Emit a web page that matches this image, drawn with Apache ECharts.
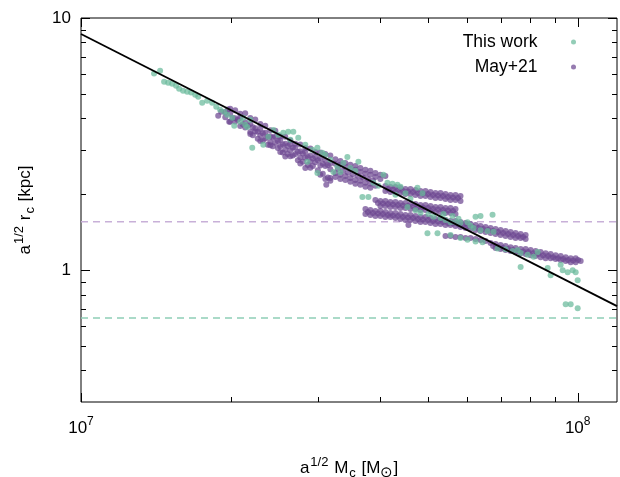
<!DOCTYPE html>
<html><head><meta charset="utf-8">
<script src="https://cdn.jsdelivr.net/npm/echarts@6/dist/echarts.min.js"></script>
<style>html,body{margin:0;padding:0;background:#fff}#c{width:620px;height:477px}</style>
</head><body><div id="c"></div>
<script>
// ---- data (a^1/2 Mc [Msun], a^1/2 rc [kpc]) ----
const thisWork = [
[1.403e7,6.02],[1.443e7,6.18],[1.470e7,5.59],[1.498e7,5.54],[1.526e7,5.49],[1.554e7,5.39],[1.576e7,5.24],[1.605e7,5.15],[1.636e7,5.10],[1.666e7,5.06],
[1.698e7,4.96],[1.722e7,4.87],[1.754e7,4.61],[1.795e7,4.70],[1.837e7,4.61],[1.872e7,4.45],[1.906e7,4.33],[1.943e7,4.25],[1.970e7,4.13],[2.016e7,4.02],
[2.035e7,3.74],[2.092e7,3.88],[2.161e7,3.70],[2.212e7,3.06],[2.328e7,3.14],[2.383e7,3.38],[2.121e7,4.02],[2.141e7,3.77],[2.192e7,3.95],[2.439e7,3.60],
[2.496e7,3.44],[2.554e7,3.51],[2.614e7,3.54],[2.676e7,3.54],[2.639e7,3.29],[2.738e7,3.35],[2.829e7,3.14],[2.855e7,2.69],[2.923e7,3.00],[2.992e7,3.06],
[2.992e7,2.43],[3.222e7,2.45],[3.282e7,2.57],[3.328e7,2.45],[3.438e7,2.81],[3.618e7,2.69],[3.104e7,2.87],[3.177e7,2.74],[3.374e7,2.66],[3.486e7,2.54],
[3.568e7,2.48],[3.686e7,1.95],[3.790e7,1.95],[4.063e7,2.39],[3.879e7,2.22],[3.970e7,2.16],[4.139e7,2.22],[4.236e7,2.20],[4.336e7,2.18],[4.397e7,2.14],
[4.500e7,2.02],[4.296e7,1.99],[4.606e7,1.92],[4.758e7,2.12],[4.870e7,2.02],[4.542e7,1.78],[4.714e7,1.73],[4.825e7,1.69],[5.007e7,1.67],[5.125e7,1.63],
[5.294e7,1.61],[4.984e7,1.40],[5.221e7,1.40],[5.546e7,1.38],[5.418e7,1.58],[5.546e7,1.55],[5.676e7,1.55],[5.809e7,1.54],[6.000e7,1.55],[6.085e7,1.50],
[6.228e7,1.63],[6.374e7,1.64],[6.739e7,1.66],[6.171e7,1.47],[6.374e7,1.44],[6.585e7,1.43],[6.771e7,1.42],[5.809e7,1.34],[6.000e7,1.32],[6.228e7,1.30],
[6.433e7,1.29],[6.898e7,1.22],[7.159e7,1.21],[7.395e7,1.19],[7.569e7,1.20],[7.676e7,1.17],[7.929e7,1.15],[8.153e7,1.13],[8.306e7,1.18],[7.676e7,1.03],
[8.701e7,1.02],[8.822e7,0.955],[9.242e7,1.05],[9.328e7,1.00],[9.547e7,0.982],[9.771e7,1.00],[9.908e7,0.982],[1.0e8,0.912],[9.459e7,0.733],[9.681e7,0.733],
[1.0e8,0.706],[5.368e7,1.67],[5.598e7,1.64],[5.755e7,1.60],[3.061e7,2.92]
];
const mayBand = [
[1.889e7,4.10],[1.915e7,4.25],[1.988e7,3.88],[3.118e7,2.18],[3.177e7,2.32],[4.563e7,1.51],
[1.997e7,4.37],[2.044e7,4.31],[2.092e7,4.17],[2.141e7,4.19],[2.192e7,4.01],[2.243e7,3.96],[2.296e7,3.80],[2.350e7,3.74],[2.405e7,3.59],[2.462e7,3.57],[2.519e7,3.40],[2.578e7,3.38],[2.639e7,3.27],[2.701e7,3.17],[2.764e7,3.15],[2.829e7,3.05],[2.896e7,3.04],[2.964e7,2.94],[3.033e7,2.93],[3.104e7,2.89],[3.177e7,2.85],
[1.952e7,4.23],[1.997e7,4.17],[2.044e7,4.00],[2.092e7,4.02],[2.141e7,3.86],[2.192e7,3.80],[2.243e7,3.65],[2.296e7,3.63],[2.350e7,3.51],[2.405e7,3.40],[2.462e7,3.38],[2.519e7,3.28],[2.578e7,3.17],[2.639e7,3.16],[2.701e7,3.06],[2.764e7,2.96],[2.829e7,2.94],[2.896e7,2.85],[2.964e7,2.81],[3.033e7,2.77],[3.104e7,2.73],[3.177e7,2.65],
[1.952e7,4.04],[1.997e7,3.88],[2.044e7,3.89],[2.092e7,3.73],[2.141e7,3.68],[2.192e7,3.53],[2.243e7,3.55],[2.296e7,3.43],[2.350e7,3.33],[2.405e7,3.22],[2.462e7,3.20],[2.519e7,3.10],[2.578e7,3.00],[2.639e7,2.99],[2.701e7,2.89],[2.764e7,2.80],[2.829e7,2.79],[2.896e7,2.70],[2.964e7,2.68],[3.033e7,2.60],[3.104e7,2.59],[3.177e7,2.51],
[2.192e7,3.47],[2.296e7,3.25],[2.405e7,3.13],[2.519e7,2.94],[2.578e7,2.82],[2.639e7,2.83],[2.764e7,2.65],[2.829e7,2.54],[2.896e7,2.55],[3.033e7,2.39],[3.104e7,2.30],[3.177e7,2.26]
];
const mayBandFill = [
[1.975e7,4.34],[2.020e7,4.01],[2.068e7,3.95],[2.116e7,3.79],[2.166e7,3.74],[2.218e7,3.69],[2.269e7,3.54],[2.323e7,3.49],[2.377e7,3.38],[2.433e7,3.36],[2.491e7,3.25],[2.548e7,3.15],[2.608e7,3.11],[2.670e7,3.06],[2.733e7,2.94],[2.796e7,2.90],[2.862e7,2.81],[2.930e7,2.77],[2.999e7,2.73],[3.068e7,2.64],[3.140e7,2.61],
[2.218e7,3.43],[2.269e7,3.32],[2.323e7,3.27],[2.377e7,3.14],[2.433e7,3.10],[2.491e7,3.05],[2.548e7,2.93],[2.608e7,2.89],[2.670e7,2.85],[2.733e7,2.73],[2.796e7,2.69],[2.862e7,2.61],[2.930e7,2.59],[2.999e7,2.49],[3.068e7,2.41],[3.140e7,2.33]
];
const mayShelf = [
[3.252e7,2.75],[3.328e7,2.71],[3.406e7,2.66],[3.486e7,2.62],[3.568e7,2.59],[3.652e7,2.54],[3.738e7,2.50],[3.825e7,2.48],[3.915e7,2.43],[4.007e7,2.39],[4.101e7,2.36],
[3.252e7,2.64],[3.328e7,2.62],[3.406e7,2.57],[3.486e7,2.52],[3.568e7,2.50],[3.652e7,2.45],[3.738e7,2.41],[3.825e7,2.39],[3.915e7,2.34],[4.007e7,2.30],
[3.290e7,2.52],[3.367e7,2.48],[3.446e7,2.44],[3.527e7,2.40],[3.610e7,2.37],[3.695e7,2.33],[3.782e7,2.30],[3.870e7,2.27],
[3.252e7,2.43],[3.328e7,2.39],[3.406e7,2.36],[3.486e7,2.32],[3.568e7,2.28],[3.652e7,2.26],[3.738e7,2.22],[3.825e7,2.20],[3.915e7,2.16],
[3.252e7,2.34],[3.328e7,2.30],[3.406e7,2.28],[3.486e7,2.24],[3.568e7,2.20],[3.652e7,2.18],[3.738e7,2.14],[3.825e7,2.12]
];
const mayUpperStreaks = [
[4.101e7,2.158],[4.197e7,2.139],[4.296e7,2.139],[4.397e7,2.118],[4.500e7,2.099],[4.606e7,2.099],[4.714e7,2.080],[4.825e7,2.061],[4.938e7,2.061],[5.054e7,2.043],[5.173e7,2.024],[5.294e7,2.024],[5.418e7,2.006],[5.546e7,1.987],[5.676e7,1.987],[5.809e7,1.969],
[4.149e7,2.100],[4.246e7,2.091],[4.346e7,2.080],[4.448e7,2.060],[4.553e7,2.052],[4.660e7,2.042],[4.769e7,2.023],[4.881e7,2.014],[4.996e7,2.006],[5.113e7,1.987],[5.233e7,1.978],[5.356e7,1.969],[5.481e7,1.951],[5.611e7,1.942],[5.742e7,1.933],
[4.101e7,2.061],[4.197e7,2.043],[4.296e7,2.043],[4.397e7,2.024],[4.500e7,2.006],[4.606e7,2.006],[4.714e7,1.987],[4.825e7,1.969],[4.938e7,1.969],[5.054e7,1.951],[5.173e7,1.933],[5.294e7,1.933],[5.418e7,1.916],[5.546e7,1.898],[5.676e7,1.898],[5.809e7,1.881],
[3.915e7,1.898],[4.007e7,1.881],[4.101e7,1.881],[4.197e7,1.864],[4.296e7,1.864],[4.397e7,1.847],[4.500e7,1.847],[4.606e7,1.830],[4.714e7,1.830],[4.825e7,1.813],[4.938e7,1.813],[5.054e7,1.797],[5.173e7,1.780],[5.294e7,1.780],[5.418e7,1.764],[5.546e7,1.764],[5.676e7,1.748],
[3.961e7,1.847],[4.054e7,1.838],[4.149e7,1.831],[4.246e7,1.822],[4.346e7,1.814],[4.448e7,1.805],[4.553e7,1.797],[4.660e7,1.789],[4.769e7,1.781],[4.881e7,1.772],[4.996e7,1.764],[5.113e7,1.749],[5.233e7,1.740],[5.356e7,1.732],[5.481e7,1.724],[5.611e7,1.716],
[4.007e7,1.797],[4.101e7,1.797],[4.197e7,1.780],[4.296e7,1.780],[4.397e7,1.764],[4.500e7,1.764],[4.606e7,1.748],[4.714e7,1.748],[4.825e7,1.732],[4.938e7,1.732],[5.054e7,1.716],[5.173e7,1.701],[5.294e7,1.701],[5.418e7,1.685],[5.546e7,1.685],[5.676e7,1.670]
];
const mayLowerStreaks = [
[3.738e7,1.748],[3.825e7,1.732],[3.915e7,1.716],[4.007e7,1.716],[4.101e7,1.701],[4.197e7,1.685],[4.296e7,1.685],[4.397e7,1.670],[4.500e7,1.655],[4.606e7,1.655],[4.714e7,1.640],[4.825e7,1.625],[4.938e7,1.625],[5.054e7,1.610],[5.173e7,1.595],[5.294e7,1.595],[5.418e7,1.580],[5.546e7,1.566],[5.676e7,1.566],[5.809e7,1.552],[5.945e7,1.538],[6.085e7,1.524],[6.228e7,1.510],[6.374e7,1.496],[6.524e7,1.482],[6.677e7,1.469],[6.834e7,1.455],[6.995e7,1.442],[7.159e7,1.429],[7.327e7,1.416],[7.499e7,1.403],[7.676e7,1.390],[7.856e7,1.378],
[3.782e7,1.701],[3.870e7,1.685],[3.961e7,1.677],[4.054e7,1.670],[4.149e7,1.655],[4.246e7,1.647],[4.346e7,1.639],[4.448e7,1.625],[4.553e7,1.618],[4.660e7,1.610],[4.769e7,1.595],[4.881e7,1.588],[4.996e7,1.581],[5.113e7,1.566],[5.233e7,1.559],[5.356e7,1.551],[5.481e7,1.537],[5.611e7,1.531],[5.742e7,1.524],[5.877e7,1.510],[6.014e7,1.496],[6.156e7,1.483],[6.301e7,1.469],[6.448e7,1.455],[6.600e7,1.442],[6.755e7,1.429],[6.914e7,1.416],[7.077e7,1.403],[7.243e7,1.390],[7.413e7,1.377],[7.587e7,1.365],[7.766e7,1.353],
[3.738e7,1.670],[3.825e7,1.655],[3.915e7,1.640],[4.007e7,1.640],[4.101e7,1.625],[4.197e7,1.625],[4.296e7,1.610],[4.397e7,1.595],[4.500e7,1.580],[4.606e7,1.580],[4.714e7,1.566],[4.825e7,1.552],[4.938e7,1.552],[5.054e7,1.538],[5.173e7,1.524],[5.294e7,1.524],[5.418e7,1.510],[5.546e7,1.510],[5.676e7,1.496],[5.809e7,1.482],[5.945e7,1.469],[6.085e7,1.455],[6.228e7,1.442],[6.374e7,1.429],[6.524e7,1.416],[6.677e7,1.403],[6.834e7,1.390],[6.995e7,1.378],[7.159e7,1.365],[7.327e7,1.353],[7.499e7,1.340],[7.676e7,1.340],[7.856e7,1.328],
[5.418e7,1.365],[5.546e7,1.365],[5.676e7,1.353],[5.809e7,1.353],[5.945e7,1.340],[6.085e7,1.340],[6.228e7,1.328],[6.374e7,1.316],[6.524e7,1.304],
[6.677e7,1.280],[6.834e7,1.269],[6.995e7,1.257],[7.159e7,1.246],[7.327e7,1.234],[7.499e7,1.223],[7.676e7,1.212],[7.856e7,1.212],[8.040e7,1.201],[8.229e7,1.190],[8.422e7,1.179],[8.620e7,1.168],[8.822e7,1.158],[9.029e7,1.147],[9.242e7,1.137],[9.459e7,1.126],[9.681e7,1.116],[9.908e7,1.116],
[6.755e7,1.246],[6.914e7,1.234],[7.077e7,1.223],[7.243e7,1.212],[7.413e7,1.201],[7.587e7,1.190],[7.766e7,1.185],[7.948e7,1.179],[8.134e7,1.168],[8.325e7,1.158],[8.520e7,1.147],[8.721e7,1.137],[8.925e7,1.126],[9.134e7,1.116],[9.350e7,1.106],[9.569e7,1.096],[9.794e7,1.091],[1.002e8,1.096],
[6.834e7,1.223],[6.995e7,1.212],[7.159e7,1.201],[7.327e7,1.190],[7.499e7,1.179],[7.676e7,1.168],[7.856e7,1.158],[8.040e7,1.147],[8.229e7,1.137],[8.422e7,1.126],[8.620e7,1.116],[8.822e7,1.116],[9.029e7,1.106],[9.242e7,1.096],[9.459e7,1.086],[9.681e7,1.076],[9.908e7,1.076],[1.014e8,1.086]
];
const fitX = [1e7, 1.2e8];
const fitY = [8.64, 0.72];
const limitMay = 1.557;
const limitThis = 0.646;
const xRange = [1e7, 1.2e8];
const yRange = [0.3, 10];
const xMajor = [1e7, 1e8];
const xMinor = [2e7, 3e7, 4e7, 5e7, 6e7, 7e7, 8e7, 9e7];
const yMajor = [1, 10];
const yMinor = [0.4, 0.5, 0.6, 0.7, 0.8, 0.9, 2, 3, 4, 5, 6, 7, 8, 9];

// ---- chart ----
const FONT = '"Liberation Sans", Arial, sans-serif';
const GREEN = 'rgba(106,186,155,0.9)';
const PURPLE = 'rgba(110,72,146,0.9)';
const chart = echarts.init(document.getElementById('c'), null, {renderer: 'canvas'});
const isPow = v => { const e = Math.log10(v); return Math.abs(e - Math.round(e)) < 1e-6; };
const nameRich = {
  n: {fontSize: 17, fontFamily: FONT, color: '#000', verticalAlign: 'bottom', padding: [0, 0, 3, 0]},
  sp: {fontSize: 13, fontFamily: FONT, color: '#000', verticalAlign: 'bottom', padding: [0, 1, 11, 1]},
  sb: {fontSize: 13, fontFamily: FONT, color: '#000', verticalAlign: 'bottom', padding: [0, 1, 0, 1]},
  sun: {fontSize: 15, fontFamily: FONT, color: '#000', verticalAlign: 'bottom', padding: [0, 0, 0, 0]}
};
const mayAll = mayBand.concat(mayBandFill, mayShelf, mayUpperStreaks, mayLowerStreaks);
chart.setOption({
  animation: false,
  backgroundColor: '#fff',
  grid: {left: 81, right: 3, top: 18, bottom: 75, outerBoundsMode: 'none', containLabel: false,
         show: true, borderColor: '#000', borderWidth: 1, backgroundColor: 'transparent'},
  legend: {
    data: ['This work', 'May+21'], orient: 'vertical', align: 'right', right: 44, top: 33, padding: 0,
    itemWidth: 62, itemHeight: 5, itemGap: 7, icon: 'circle',
    textStyle: {fontSize: 17.5, fontFamily: FONT, color: '#000', lineHeight: 18}
  },
  xAxis: {
    type: 'log', logBase: 10, min: xRange[0], max: xRange[1],
    axisLine: {show: false}, axisTick: {show: false}, splitLine: {show: false},
    axisLabel: {
      margin: 14,
      formatter: v => isPow(v) ? '{b|10}{s|' + Math.round(Math.log10(v)) + '}' : '',
      rich: {
        b: {fontSize: 17, fontFamily: FONT, color: '#000', verticalAlign: 'bottom'},
        s: {fontSize: 12, fontFamily: FONT, color: '#000', verticalAlign: 'bottom', padding: [0, 0, 9, 0]}
      }
    },
    name: '{n|a}{sp|1/2}{n| M}{sb|c}{n| [M}{sun|⊙}{n|]}',
    nameLocation: 'middle', nameGap: 54,
    nameTextStyle: {rich: nameRich}
  },
  yAxis: {
    type: 'log', logBase: 10, min: yRange[0], max: yRange[1],
    axisLine: {show: false}, axisTick: {show: false}, splitLine: {show: false},
    axisLabel: {
      margin: 10, fontSize: 17, fontFamily: FONT, color: '#000',
      formatter: v => isPow(v) ? String(Math.round(v)) : ''
    },
    name: '{n|a}{sp|1/2}{n| r}{sb|c}{n| [kpc]}',
    nameLocation: 'middle', nameRotate: 90, nameGap: 44,
    nameTextStyle: {rich: nameRich}
  },
  series: [
    {name: 'limitMay', type: 'line', silent: true, symbol: 'none', z: 1,
     data: [[xRange[0], limitMay], [xRange[1], limitMay]],
     lineStyle: {color: '#c8b0d8', width: 1.5, type: [7, 5]}},
    {name: 'limitThis', type: 'line', silent: true, symbol: 'none', z: 1,
     data: [[xRange[0], limitThis], [xRange[1], limitThis]],
     lineStyle: {color: '#8fceb6', width: 1.5, type: [7, 5]}},
    {name: 'May+21', type: 'scatter', symbol: 'circle', symbolSize: 6, z: 2,
     data: mayAll, itemStyle: {color: PURPLE}},
    {name: 'This work', type: 'scatter', symbol: 'circle', symbolSize: 6, z: 3,
     data: thisWork, itemStyle: {color: GREEN}},
    {name: 'fit', type: 'line', silent: true, symbol: 'none', z: 4,
     data: fitX.map((x, i) => [x, fitY[i]]),
     lineStyle: {color: '#000', width: 1.8}}
  ]
});

// mirrored inward ticks (gnuplot style) positioned through the axes' own scales
function drawTicks() {
  const px = v => chart.convertToPixel({xAxisIndex: 0}, v);
  const py = v => chart.convertToPixel({yAxisIndex: 0}, v);
  const L = px(xRange[0]), R = px(xRange[1]), T = py(yRange[1]), B = py(yRange[0]);
  const els = [];
  const seg = (x1, y1, x2, y2) => els.push({type: 'line', silent: true, z: 10,
    shape: {x1, y1, x2, y2}, style: {stroke: '#000', lineWidth: 1}});
  const xt = (v, len) => { const x = Math.round(px(v)) + 0.5; seg(x, B, x, B - len); seg(x, T, x, T + len); };
  const yt = (v, len) => { const y = Math.round(py(v)) + 0.5; seg(L, y, L + len, y); seg(R, y, R - len, y); };
  xMajor.forEach(v => xt(v, 9)); xMinor.forEach(v => xt(v, 5));
  yMajor.forEach(v => yt(v, 9)); yMinor.forEach(v => yt(v, 5));
  chart.setOption({graphic: els});
}
drawTicks();
</script></body></html>
